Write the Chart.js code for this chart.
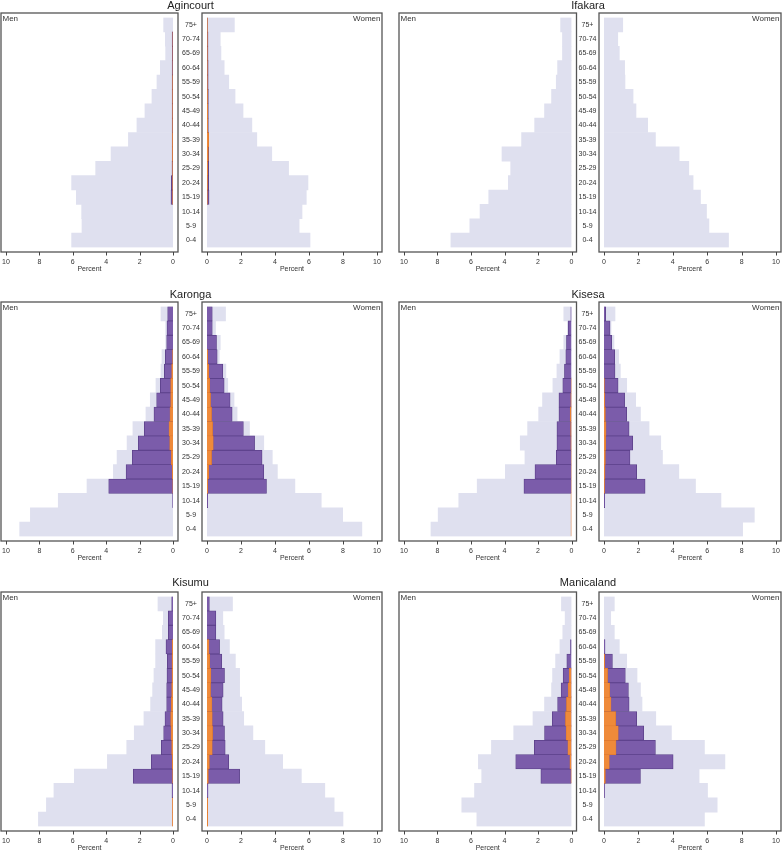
<!DOCTYPE html>
<html>
<head>
<meta charset="utf-8">
<script src="https://cdn.jsdelivr.net/npm/chart.js@4.4.1/dist/chart.umd.min.js"></script>
<style>
  body { margin: 0; background: #fff; width: 782px; height: 850px; position: relative; overflow: hidden;
         font-family: "Liberation Sans", Arial, Helvetica, sans-serif; }
  canvas { position: absolute; }
  .ttl { position: absolute; font-size: 11px; line-height: 11px; color: #222; white-space: nowrap; transform: translateX(-50%); }
</style>
</head>
<body>
<script>
// age groups, youngest first
const ages = ['0-4','5-9','10-14','15-19','20-24','25-29','30-34','35-39','40-44','45-49','50-54','55-59','60-64','65-69','70-74','75+'];
const xTicks = [0, 2, 4, 6, 8, 10];

// Agincourt
const agincourtMenTotal   = [6.07, 5.45, 5.47, 5.79, 6.07, 4.63, 3.71, 2.67, 2.16, 1.68, 1.26, 0.96, 0.76, 0.44, 0.46, 0.56];
const agincourtMenMid     = [0, 0, 0, 0.12, 0.10, 0.06, 0.05, 0.05, 0.05, 0.05, 0.05, 0.05, 0.05, 0.04, 0.05, 0];
const agincourtMenInner   = [0, 0, 0, 0.02, 0.02, 0.02, 0.03, 0.03, 0.02, 0.02, 0.02, 0.02, 0.01, 0.01, 0.01, 0];
const agincourtWomenTotal = [6.06, 5.42, 5.59, 5.84, 5.94, 4.80, 3.81, 2.93, 2.64, 2.12, 1.65, 1.28, 1.01, 0.82, 0.78, 1.61];
const agincourtWomenMid   = [0, 0, 0, 0.12, 0.10, 0.10, 0.10, 0.10, 0.08, 0.08, 0.08, 0.07, 0.07, 0.06, 0.06, 0.02];
const agincourtWomenInner = [0, 0, 0, 0.02, 0.03, 0.05, 0.08, 0.10, 0.05, 0.04, 0.03, 0.02, 0.02, 0.02, 0.02, 0.02];

// Ifakara
const ifakaraMenTotal   = [7.20, 6.07, 5.46, 4.94, 3.77, 3.63, 4.15, 2.98, 2.20, 1.61, 1.19, 0.91, 0.83, 0.54, 0.54, 0.65];
const ifakaraMenMid     = [0, 0, 0, 0, 0, 0, 0, 0, 0, 0, 0, 0, 0, 0, 0, 0];
const ifakaraMenInner   = [0, 0, 0, 0, 0, 0, 0, 0, 0, 0, 0, 0, 0, 0, 0, 0];
const ifakaraWomenTotal = [7.24, 6.10, 5.96, 5.61, 5.18, 4.93, 4.37, 2.99, 2.54, 1.86, 1.69, 1.22, 1.20, 0.89, 0.80, 1.09];
const ifakaraWomenMid   = [0, 0, 0, 0, 0, 0, 0, 0, 0, 0, 0, 0, 0, 0, 0, 0];
const ifakaraWomenInner = [0, 0, 0, 0, 0, 0, 0, 0, 0, 0, 0, 0, 0, 0, 0, 0];

// Karonga
const karongaMenTotal   = [9.18, 8.54, 6.87, 5.15, 3.57, 3.35, 2.75, 2.40, 1.62, 1.36, 1.02, 0.72, 0.66, 0.44, 0.44, 0.72];
const karongaMenMid     = [0, 0, 0.02, 3.85, 2.81, 2.44, 2.08, 1.72, 1.14, 0.98, 0.76, 0.52, 0.46, 0.38, 0.36, 0.32];
const karongaMenInner   = [0, 0, 0, 0.01, 0.04, 0.10, 0.20, 0.24, 0.18, 0.14, 0.14, 0.08, 0.02, 0, 0, 0];
const karongaWomenTotal = [9.11, 7.98, 6.72, 5.17, 4.14, 3.84, 3.34, 2.50, 1.77, 1.59, 1.22, 1.11, 0.72, 0.78, 0.50, 1.09];
const karongaWomenMid   = [0, 0, 0.04, 3.50, 3.34, 3.24, 2.80, 2.14, 1.48, 1.36, 1.01, 0.93, 0.60, 0.56, 0.31, 0.31];
const karongaWomenInner = [0, 0, 0, 0.04, 0.10, 0.27, 0.37, 0.33, 0.27, 0.21, 0.16, 0.10, 0.04, 0, 0, 0];

// Kisesa
const kisesaMenTotal   = [8.39, 7.96, 6.73, 5.63, 3.95, 2.78, 3.06, 2.62, 1.96, 1.73, 1.11, 0.87, 0.69, 0.46, 0.24, 0.46];
const kisesaMenMid     = [0, 0, 0, 2.84, 2.18, 0.91, 0.87, 0.87, 0.75, 0.75, 0.52, 0.42, 0.34, 0.30, 0.20, 0.04];
const kisesaMenInner   = [0.03, 0.03, 0.03, 0.02, 0.02, 0.02, 0.04, 0.05, 0.08, 0.04, 0.02, 0, 0, 0, 0, 0];
const kisesaWomenTotal = [8.06, 8.74, 6.80, 5.32, 4.35, 3.40, 3.30, 2.62, 2.12, 1.84, 1.32, 0.95, 0.85, 0.58, 0.41, 0.64];
const kisesaWomenMid   = [0, 0, 0.04, 2.39, 1.90, 1.51, 1.67, 1.46, 1.32, 1.20, 0.82, 0.64, 0.62, 0.45, 0.35, 0.10];
const kisesaWomenInner = [0, 0, 0, 0.03, 0.06, 0.08, 0.10, 0.12, 0.08, 0.05, 0.02, 0, 0, 0, 0, 0];

// Kisumu
const kisumuMenTotal   = [8.06, 7.58, 7.13, 5.91, 3.93, 2.77, 2.32, 1.74, 1.34, 1.22, 1.14, 1.04, 1.04, 0.64, 0.58, 0.90];
const kisumuMenMid     = [0, 0, 0.06, 2.38, 1.30, 0.70, 0.56, 0.48, 0.38, 0.38, 0.36, 0.34, 0.42, 0.28, 0.28, 0.08];
const kisumuMenInner   = [0.03, 0.03, 0, 0.02, 0.04, 0.08, 0.12, 0.14, 0.10, 0.08, 0.06, 0.06, 0.04, 0, 0, 0];
const kisumuWomenTotal = [8.00, 7.48, 6.93, 5.55, 4.45, 3.40, 2.70, 2.16, 2.04, 1.92, 1.92, 1.67, 1.32, 1.01, 0.93, 1.50];
const kisumuWomenMid   = [0, 0, 0.06, 1.92, 1.28, 1.07, 1.03, 0.95, 0.89, 0.95, 1.03, 0.87, 0.74, 0.52, 0.52, 0.14];
const kisumuWomenInner = [0.04, 0.04, 0, 0.08, 0.14, 0.31, 0.33, 0.31, 0.29, 0.21, 0.23, 0.16, 0.12, 0, 0, 0];

// Manicaland
const manicalandMenTotal   = [5.65, 6.55, 5.79, 5.36, 5.56, 4.78, 3.45, 2.30, 1.61, 1.19, 1.13, 0.95, 0.69, 0.52, 0.38, 0.60];
const manicalandMenMid     = [0, 0, 0, 1.83, 3.33, 2.22, 1.61, 1.15, 0.83, 0.62, 0.50, 0.28, 0.06, 0, 0, 0];
const manicalandMenInner   = [0, 0, 0, 0.03, 0.10, 0.22, 0.32, 0.36, 0.30, 0.20, 0.14, 0, 0, 0, 0, 0];
const manicalandWomenTotal = [5.84, 6.58, 6.02, 5.53, 7.03, 5.84, 3.92, 3.01, 2.21, 2.12, 1.92, 1.32, 0.89, 0.60, 0.39, 0.60];
const manicalandWomenMid   = [0, 0, 0.03, 2.12, 4.02, 2.99, 2.31, 1.90, 1.46, 1.42, 1.24, 0.49, 0.06, 0, 0, 0];
const manicalandWomenInner = [0, 0, 0, 0.08, 0.31, 0.70, 0.83, 0.68, 0.41, 0.33, 0.21, 0.04, 0, 0, 0, 0];

// colours
const LAVENDER = '#dfe0ef';
const PURPLE = '#7b5caa';
const PURPLE_EDGE = '#5a3f88';
const ORANGE = '#ef8a3a';
const ORANGE_EDGE = '#d8722a';
const TEXT = '#333';
const FONT = '"Liberation Sans", Arial, Helvetica, sans-serif';

Chart.defaults.font.family = FONT;
Chart.defaults.color = TEXT;

// layout: plot areas (inner, where 0..10 lives)
const cols = [
  { men: [6, 173],   women: [207, 377],   labelX: 191,   title: 190.5 },
  { men: [403.5, 571], women: [604, 776], labelX: 587.5, title: 588 }
];
const rows = [13, 302, 592];      // top of box
const titleTops = [-0.5, 288.5, 577];
const PAD_X = 5, PAD_Y = 4.5, PLOT_H = 230, AXIS_H = 30;

const sites = [
  { name: 'Agincourt',  col: 0, row: 0, men: [agincourtMenTotal, agincourtMenMid, agincourtMenInner], women: [agincourtWomenTotal, agincourtWomenMid, agincourtWomenInner] },
  { name: 'Ifakara',    col: 1, row: 0, men: [ifakaraMenTotal, ifakaraMenMid, ifakaraMenInner], women: [ifakaraWomenTotal, ifakaraWomenMid, ifakaraWomenInner] },
  { name: 'Karonga',    col: 0, row: 1, men: [karongaMenTotal, karongaMenMid, karongaMenInner], women: [karongaWomenTotal, karongaWomenMid, karongaWomenInner] },
  { name: 'Kisesa',     col: 1, row: 1, men: [kisesaMenTotal, kisesaMenMid, kisesaMenInner], women: [kisesaWomenTotal, kisesaWomenMid, kisesaWomenInner] },
  { name: 'Kisumu',     col: 0, row: 2, men: [kisumuMenTotal, kisumuMenMid, kisumuMenInner], women: [kisumuWomenTotal, kisumuWomenMid, kisumuWomenInner] },
  { name: 'Manicaland', col: 1, row: 2, men: [manicalandMenTotal, manicalandMenMid, manicalandMenInner], women: [manicalandWomenTotal, manicalandWomenMid, manicalandWomenInner] }
];

// box round the plot, x tick marks and the Men / Women tag
const framePlugin = {
  id: 'frame',
  afterDraw(chart, args, opts) {
    const { ctx, chartArea: a } = chart;
    const x0 = a.left - PAD_X, x1 = a.right + PAD_X;
    const y0 = a.top - PAD_Y, y1 = a.bottom + PAD_Y;
    ctx.save();
    ctx.strokeStyle = '#555';
    ctx.lineWidth = 1.3;
    ctx.strokeRect(x0, y0, x1 - x0, y1 - y0);
    const xs = chart.scales.x;
    ctx.lineWidth = 1;
    ctx.strokeStyle = '#444';
    xs.ticks.forEach(t => {
      const px = Math.round(xs.getPixelForValue(t.value)) + 0.5;
      ctx.beginPath();
      ctx.moveTo(px, y1);
      ctx.lineTo(px, y1 + 3.5);
      ctx.stroke();
    });
    ctx.fillStyle = TEXT;
    ctx.font = '8px ' + FONT;
    ctx.textBaseline = 'top';
    if (opts.side === 'men') {
      ctx.textAlign = 'left';
      ctx.fillText('Men', x0 + 1.5, y0 + 1.5);
    } else {
      ctx.textAlign = 'right';
      ctx.fillText('Women', x1 - 1.5, y0 + 1.5);
    }
    ctx.restore();
  }
};

// zero means no bar at all
const orNull = arr => arr.map(v => (v > 0 ? v : null));

function barSets(total, mid, inner) {
  return [
    { data: orNull(inner), backgroundColor: ORANGE, borderColor: ORANGE_EDGE, borderWidth: 0.5 },
    { data: orNull(mid), backgroundColor: PURPLE, borderColor: PURPLE_EDGE, borderWidth: 0.8 },
    { data: total, backgroundColor: LAVENDER, borderWidth: 0 }
  ];
}

// measure the widest age label so the labels can be centred between the boxes
const measureCtx = document.createElement('canvas').getContext('2d');
measureCtx.font = '7px ' + FONT;
const widestAge = Math.max(...ages.map(a => measureCtx.measureText(a).width));

function makeHalf(side, geo, boxTop, series) {
  const plot = geo[side];
  const canvas = document.createElement('canvas');
  let left, right, axisW = 0;
  if (side === 'men') {
    left = plot[0] - PAD_X - 2;
    right = plot[1] + PAD_X + 2;
  } else {
    left = geo.men[1] + PAD_X + 2;
    right = Math.min(plot[1] + PAD_X + 3, 782);
    axisW = plot[0] - left;
  }
  const top = boxTop + PAD_Y - 14.5;
  const height = 14.5 + PLOT_H + AXIS_H + 2.5;
  canvas.width = Math.round(right - left);
  canvas.height = Math.round(height);
  canvas.style.left = left + 'px';
  canvas.style.top = top + 'px';
  document.body.appendChild(canvas);

  const labelPad = axisW - (geo.labelX - left) - widestAge / 2;

  return new Chart(canvas, {
    type: 'bar',
    data: { labels: ages, datasets: barSets(series[0], series[1], series[2]) },
    options: {
      indexAxis: 'y',
      responsive: false,
      animation: false,
      events: [],
      layout: {
        padding: {
          left: side === 'men' ? plot[0] - left : 0,
          right: canvas.width - (plot[1] - left),
          top: 14.5,
          bottom: canvas.height - 14.5 - PLOT_H - AXIS_H
        }
      },
      datasets: { bar: { grouped: false, barPercentage: 1, categoryPercentage: 1, skipNull: true } },
      plugins: {
        legend: { display: false },
        tooltip: { enabled: false },
        frame: { side: side }
      },
      scales: {
        x: {
          type: 'linear',
          min: 0,
          max: 10,
          reverse: side === 'men',
          position: 'bottom',
          afterBuildTicks: s => { s.ticks = xTicks.map(v => ({ value: v })); },
          afterFit: s => { s.height = AXIS_H; s.paddingLeft = 0; s.paddingRight = 0; },
          grid: { display: false, drawTicks: false },
          border: { display: false },
          ticks: { padding: 10, color: TEXT, font: { size: 7 }, maxRotation: 0, autoSkip: false },
          title: { display: true, text: 'Percent', color: TEXT, font: { size: 7 }, padding: { top: 0, bottom: 4.5 } }
        },
        y: {
          type: 'category',
          reverse: true,
          offset: true,
          display: side === 'women',
          position: 'left',
          afterFit: s => { s.width = axisW; s.paddingTop = 0; s.paddingBottom = 0; },
          grid: { display: false, drawTicks: false },
          border: { display: false },
          ticks: { crossAlign: 'center', padding: labelPad, color: TEXT, font: { size: 7 }, autoSkip: false }
        }
      }
    },
    plugins: [framePlugin]
  });
}

sites.forEach(s => {
  const geo = cols[s.col];
  const boxTop = rows[s.row];
  makeHalf('men', geo, boxTop, s.men);
  makeHalf('women', geo, boxTop, s.women);
  const t = document.createElement('div');
  t.className = 'ttl';
  t.textContent = s.name;
  t.style.left = geo.title + 'px';
  t.style.top = titleTops[s.row] + 'px';
  document.body.appendChild(t);
});
</script>
</body>
</html>
